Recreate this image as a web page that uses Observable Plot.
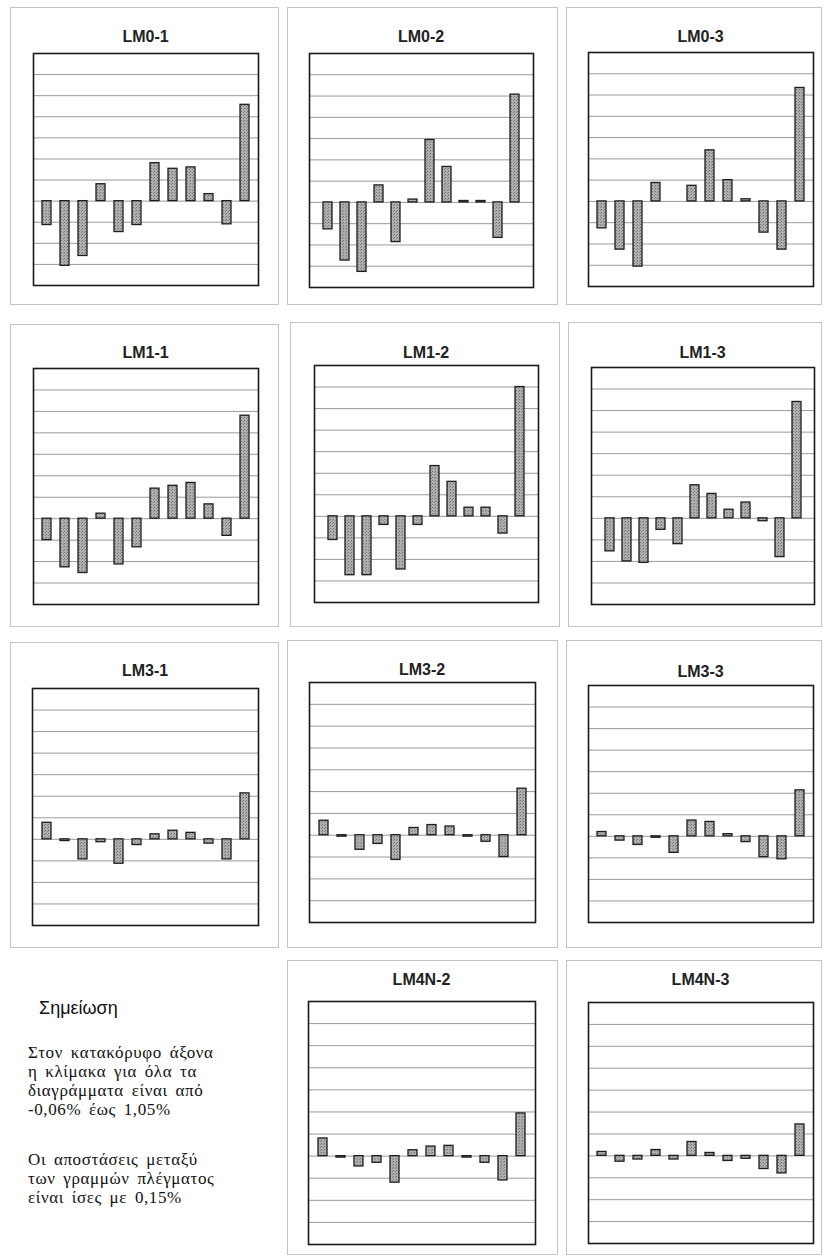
<!DOCTYPE html>
<html>
<head>
<meta charset="utf-8">
<script src="https://cdn.jsdelivr.net/npm/d3@7"></script>
<script src="https://cdn.jsdelivr.net/npm/@observablehq/plot@0.6"></script>
<style>
  html, body { margin: 0; padding: 0; background: #fff; }
  #root { position: relative; width: 824px; height: 1259px; overflow: hidden; }
  .box { position: absolute; border: 1px solid #c4c4c4; box-sizing: border-box; }
  .ttl { position: absolute; font-family: "Liberation Sans", Arial, sans-serif; font-weight: bold;
         font-size: 16px; color: #222; transform: translate(-50%, -50%); white-space: nowrap; }
  .plot { position: absolute; }
  .note-h { position: absolute; font-family: "Liberation Sans", Arial, sans-serif; font-size: 18px; color: #111; }
  .note { position: absolute; font-family: "Liberation Serif", "Times New Roman", serif; font-size: 17px;
          letter-spacing: 0.6px; word-spacing: 3px; line-height: 19px; color: #111; white-space: nowrap; }
</style>
</head>
<body>
<svg width="0" height="0" style="position:absolute">
  <defs>
    <pattern id="stipple" width="3" height="3" patternUnits="userSpaceOnUse">
      <rect width="3" height="3" fill="#b0b0b0"></rect>
      <rect x="0" y="0" width="1" height="1" fill="#6e6e6e"></rect>
      <rect x="2" y="1" width="1" height="1" fill="#828282"></rect>
    </pattern>
  </defs>
</svg>
<div id="root"></div>
<script>
// ---- data ----
const panelNames = ["LM0-1","LM0-2","LM0-3","LM1-1","LM1-2","LM1-3","LM3-1","LM3-2","LM3-3","LM4N-2","LM4N-3"];
const lm0_1 = [-0.17,-0.46,-0.39,0.12,-0.22,-0.17,0.27,0.23,0.24,0.05,-0.165,0.685];
const lm0_2 = [-0.19,-0.41,-0.49,0.12,-0.28,0.02,0.44,0.25,0.01,0.01,-0.25,0.76];
const lm0_3 = [-0.19,-0.34,-0.46,0.13,0,0.11,0.36,0.15,0.015,-0.22,-0.34,0.80];
const lm1_1 = [-0.15,-0.34,-0.38,0.035,-0.32,-0.20,0.21,0.23,0.25,0.10,-0.12,0.72];
const lm1_2 = [-0.165,-0.41,-0.41,-0.06,-0.37,-0.06,0.35,0.24,0.06,0.06,-0.12,0.90];
const lm1_3 = [-0.23,-0.30,-0.31,-0.08,-0.18,0.23,0.17,0.06,0.11,-0.02,-0.27,0.81];
const lm3_1 = [0.115,-0.012,-0.14,-0.02,-0.17,-0.04,0.035,0.06,0.045,-0.03,-0.14,0.32];
const lm3_2 = [0.10,-0.01,-0.10,-0.06,-0.17,0.05,0.07,0.06,-0.01,-0.045,-0.15,0.32];
const lm3_3 = [0.03,-0.03,-0.06,-0.01,-0.115,0.11,0.10,0.015,-0.04,-0.145,-0.16,0.32];
const lm4n_2 = [0.12,-0.01,-0.07,-0.045,-0.18,0.04,0.065,0.07,-0.01,-0.045,-0.165,0.29];
const lm4n_3 = [0.027,-0.04,-0.025,0.04,-0.025,0.095,0.02,-0.035,-0.02,-0.09,-0.12,0.215];
const panelValues = [lm0_1,lm0_2,lm0_3,lm1_1,lm1_2,lm1_3,lm3_1,lm3_2,lm3_3,lm4n_2,lm4n_3];
const yDomain = [-0.60, 1.05];
const gridValues = [-0.45,-0.30,-0.15,0,0.15,0.30,0.45,0.60,0.75,0.90];
const noteTitle = "Σημείωση";
const noteLines1 = ["Στον κατακόρυφο άξονα","η κλίμακα για όλα τα","διαγράμματα είναι από","-0,06% έως 1,05%"];
const noteLines2 = ["Οι αποστάσεις μεταξύ","των γραμμών πλέγματος","είναι ίσες με 0,15%"];

// ---- layout (frame: left, top, right, bottom; title centre y) ----
const frames = [
  [33,53,258,285,37],[309,53,533,287,37],[588,52,813,286,37],
  [33,368,258,604,353],[314,365,538,602,353],[591,367,814,604,353],
  [32,688,258,925,671],[309,682,535,922,670],[588,685,813,922,672],
  [308,1001,535,1244,980],[588,1002,813,1243,980]
];
const boxes = [
  [10,7,279,305],[287,7,558,305],[566,7,822,305],
  [10,324,279,627],[290,322,560,627],[568,322,822,627],
  [10,642,279,948],[287,640,558,948],[566,640,822,948],
  [287,960,558,1255],[566,960,822,1255]
];

const root = document.getElementById("root");
for (const b of boxes) {
  const d = document.createElement("div");
  d.className = "box";
  Object.assign(d.style, {left: b[0]+"px", top: b[1]+"px", width: (b[2]-b[0])+"px", height: (b[3]-b[1])+"px"});
  root.appendChild(d);
}

const M = 2;
panelNames.forEach((name, k) => {
  const [l, t, r, bt, ty] = frames[k];
  const vals = panelValues[k];
  const data = vals.map((v, i) => ({i, v}));
  const svg = Plot.plot({
    width: (r - l) + 2*M,
    height: (bt - t) + 2*M,
    marginLeft: M, marginRight: M, marginTop: M, marginBottom: M,
    x: {type: "band", domain: d3.range(vals.length), padding: 0.5, axis: null},
    y: {domain: yDomain, axis: null},
    style: {background: "transparent", overflow: "visible"},
    marks: [
      Plot.ruleY(gridValues, {stroke: "#9a9a9a", strokeWidth: 1}),
      Plot.barY(data, {x: "i", y: "v", fill: "url(#stipple)", stroke: "#1e1e1e", strokeWidth: 1.3}),
      Plot.frame({stroke: "#1a1a1a", strokeWidth: 1.6})
    ]
  });
  svg.classList.add("plot");
  svg.style.left = (l - M) + "px";
  svg.style.top = (t - M) + "px";
  root.appendChild(svg);
  const tt = document.createElement("div");
  tt.className = "ttl";
  tt.textContent = name;
  tt.style.left = ((l + r) / 2) + "px";
  tt.style.top = ty + "px";
  root.appendChild(tt);
});

const nh = document.createElement("div");
nh.className = "note-h";
nh.textContent = noteTitle;
Object.assign(nh.style, {left: "39px", top: "998px"});
root.appendChild(nh);
[[noteLines1, 1043], [noteLines2, 1150]].forEach(([lines, top]) => {
  const p = document.createElement("div");
  p.className = "note";
  Object.assign(p.style, {left: "28px", top: top + "px"});
  lines.forEach((s, i) => {
    const ln = document.createElement("div");
    ln.textContent = s;
    p.appendChild(ln);
  });
  root.appendChild(p);
});
</script>
</body>
</html>
